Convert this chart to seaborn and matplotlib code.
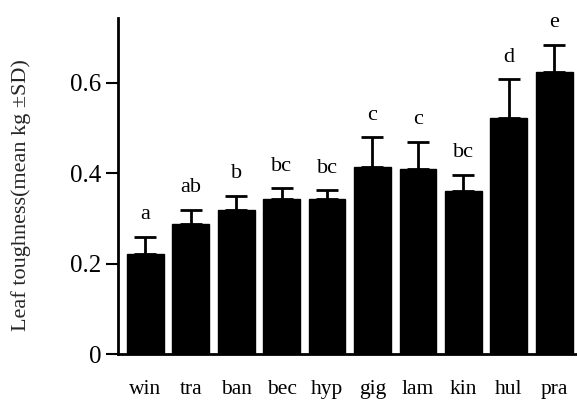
import matplotlib
matplotlib.use("Agg")
import matplotlib.pyplot as plt
import seaborn as sns
import numpy as np
import pandas as pd

species = ["win", "tra", "ban", "bec", "hyp", "gig", "lam", "kin", "hul", "pra"]
means = [0.221, 0.288, 0.319, 0.342, 0.343, 0.414, 0.409, 0.361, 0.521, 0.623]
sds = [0.038, 0.031, 0.031, 0.025, 0.019, 0.065, 0.060, 0.035, 0.087, 0.061]
letters = ["a", "ab", "b", "bc", "bc", "c", "c", "bc", "d", "e"]
yticks = [0, 0.2, 0.4, 0.6]
ytick_labels = ["0", "0.2", "0.4", "0.6"]

sns.set_theme(style="ticks")
plt.rcParams["font.family"] = ["Liberation Serif", "DejaVu Serif"]

fig = plt.figure(figsize=(5.77, 4.01), dpi=100)
ax = fig.add_axes([0.2045, 0.117, 0.7955, 0.838])

df = pd.DataFrame({"species": species, "mean": means})
sns.barplot(data=df, x="species", y="mean", color="black", saturation=1,
            width=0.81, errorbar=None, ax=ax, edgecolor="black")

xs = np.arange(len(species))
ax.errorbar(xs, means, yerr=[np.zeros(len(sds)), sds], fmt="none",
            ecolor="black", elinewidth=2, capsize=8, capthick=2)

for x, m, s, l in zip(xs, means, sds, letters):
    ax.annotate(l, (x, m + s), xytext=(0, 9), textcoords="offset points",
                ha="center", va="bottom", fontsize=16, color="black")

ax.set_xlim(-0.6, 9.5)
ax.set_ylim(0, 0.743)
ax.set_yticks(yticks)
ax.set_yticklabels(ytick_labels)
ax.set_xlabel("")
ax.set_ylabel("Leaf toughness(mean kg \u00b1SD)", fontsize=16)
ax.yaxis.set_label_coords(-0.19, 0.473)
ax.tick_params(axis="y", direction="out", length=9, width=1.5, labelsize=18, pad=3, colors="black")
ax.tick_params(axis="x", length=0, labelsize=15.5, pad=19, colors="black")
for lab in ax.get_yticklabels() + ax.get_xticklabels():
    lab.set_color("black")
sns.despine(ax=ax)
ax.spines["left"].set_linewidth(2)
ax.spines["bottom"].set_linewidth(2)
ax.spines["left"].set_color("black")
ax.spines["bottom"].set_color("black")

fig.savefig("out.png", dpi=100)
